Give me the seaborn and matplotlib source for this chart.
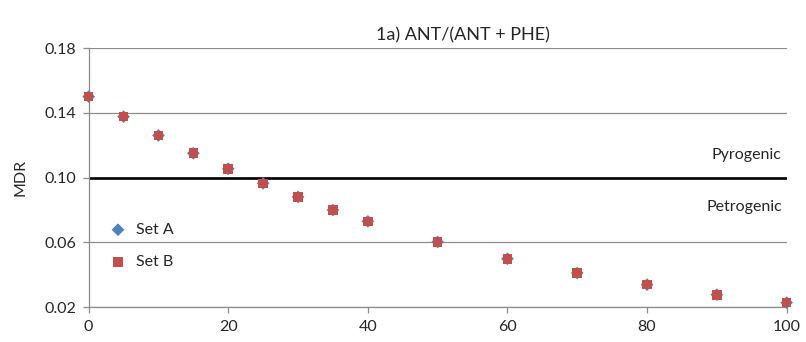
import matplotlib
matplotlib.use("Agg")
import matplotlib.pyplot as plt
import seaborn as sns
import pandas as pd

# data
x_vals = [0, 5, 10, 15, 20, 25, 30, 35, 40, 50, 60, 70, 80, 90, 100]
set_a = [0.150, 0.1376, 0.126, 0.115, 0.1054, 0.0964, 0.088, 0.0799, 0.0729,
         0.0602, 0.0498, 0.041, 0.0338, 0.0276, 0.0227]
set_b = [0.150, 0.1376, 0.126, 0.115, 0.1054, 0.0964, 0.088, 0.0799, 0.0729,
         0.0602, 0.0498, 0.041, 0.0338, 0.0276, 0.0227]
y_ticks = [0.02, 0.06, 0.10, 0.14, 0.18]
x_ticks = [0, 20, 40, 60, 80, 100]
threshold = 0.10

sns.set_style("white")
plt.rcParams["font.family"] = ["Lato", "DejaVu Sans"]

df = pd.DataFrame({"x": x_vals, "a": set_a, "b": set_b})

fig = plt.figure(figsize=(8.06, 3.42), dpi=100)
ax = fig.add_axes([0.110, 0.1023, 0.866, 0.7573])

grid_c = "#8c8c8c"
fs = 11.5
for yv in y_ticks:
    ax.axhline(yv, color=grid_c, lw=0.9, zorder=0)
ax.axhline(threshold, color="black", lw=1.9, zorder=1)

sns.scatterplot(data=df, x="x", y="a", marker="D", s=42, color="#4F81BD",
                edgecolor="none", label="Set A", ax=ax, zorder=3, clip_on=False)
sns.scatterplot(data=df, x="x", y="b", marker="s", s=48, color="#C0504D",
                edgecolor="none", label="Set B", ax=ax, zorder=4, clip_on=False)

ax.set_xlim(0, 100)
ax.set_ylim(0.02, 0.18)
ax.set_xticks(x_ticks)
ax.set_yticks(y_ticks)
ax.set_yticklabels([f"{v:.2f}" for v in y_ticks])
ax.tick_params(axis="both", direction="out", length=4, width=0.9, color=grid_c,
               labelsize=fs, pad=5, left=True, bottom=True)
for side in ["top", "right"]:
    ax.spines[side].set_visible(False)
for side in ["left", "bottom"]:
    ax.spines[side].set_color(grid_c)
    ax.spines[side].set_linewidth(0.9)
ax.set_xlabel("")
ax.set_ylabel("MDR", fontsize=fs, labelpad=12)

ax.text(99.3, 0.1139, "Pyrogenic", ha="right", va="center", fontsize=fs)
ax.text(99.3, 0.0818, "Petrogenic", ha="right", va="center", fontsize=fs)
fig.text(0.574, 0.898, "1a) ANT/(ANT + PHE)", ha="center", va="center", fontsize=13)

leg = ax.legend(loc="upper left", bbox_to_anchor=(0.01, 0.35), frameon=False,
                fontsize=fs, handletextpad=0.1, labelspacing=1.15, borderaxespad=0)

fig.savefig("out.png", dpi=100)
